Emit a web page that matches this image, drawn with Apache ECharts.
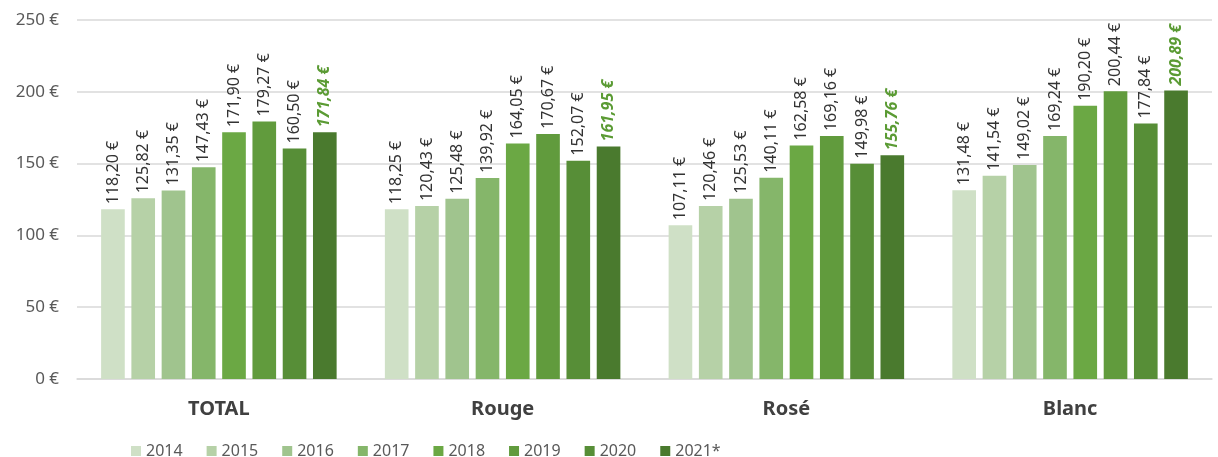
<!DOCTYPE html>
<html>
	<head>
		<meta charset="utf-8">
		<title></title>
		<script src="https://cdn.jsdelivr.net/npm/echarts@6/dist/echarts.min.js" type="text/javascript" charset="utf-8"></script>
		<style>
			html, body { margin: 0; padding: 0; background: #fff; }
		</style>
	</head>
	<body>
		<div id="mainChart" style="width: 1218px;height:457px;"></div>
		<script type="text/javascript">
			// catégories et années
			var categories = ['TOTAL', 'Rouge', 'Rosé', 'Blanc'];
			var years = ['2014', '2015', '2016', '2017', '2018', '2019', '2020', '2021*'];
			var yTicks = [0, 50, 100, 150, 200, 250];

			// valeurs par catégorie (une valeur par année)
			var totalVals = [118.20, 125.82, 131.35, 147.43, 171.90, 179.27, 160.50, 171.84];
			var rougeVals = [118.25, 120.43, 125.48, 139.92, 164.05, 170.67, 152.07, 161.95];
			var roseVals = [107.11, 120.46, 125.53, 140.11, 162.58, 169.16, 149.98, 155.76];
			var blancVals = [131.48, 141.54, 149.02, 169.24, 190.20, 200.44, 177.84, 200.89];

			var colors = ['#cfe0c6', '#b6d1a7', '#a0c48e', '#85b66a', '#6ba844', '#619b3d', '#578e37', '#4a7a2e'];

			function fmt(v) {
				return v.toFixed(2).replace('.', ',') + ' €';
			}

			function buildSeries() {
				var rows = [totalVals, rougeVals, roseVals, blancVals];
				var series = [];
				for (var i = 0; i < years.length; i++) {
					var last = i === years.length - 1;
					series.push({
						name: years[i],
						type: 'bar',
						barGap: '28%',
						barCategoryGap: '17%',
						itemStyle: { color: colors[i] },
						data: rows.map(function (r) { return r[i]; }),
						label: {
							show: true,
							position: 'top',
							rotate: 90,
							align: 'left',
							verticalAlign: 'middle',
							distance: 5,
							fontFamily: 'Noto Sans',
							fontSize: 16,
							color: last ? '#5b9b34' : '#333333',
							fontStyle: last ? 'italic' : 'normal',
							fontWeight: last ? 'bold' : 'normal',
							formatter: function (p) { return fmt(p.value); }
						}
					});
				}
				return series;
			}

			var dom = document.getElementById("mainChart");
			var myChart = echarts.init(dom);

			var option = {
				animation: false,
				backgroundColor: '#fff',
				textStyle: { fontFamily: 'Noto Sans' },
				grid: { left: 77, right: 6, top: 20, bottom: 78 },
				legend: {
					data: years,
					left: 126,
					top: 438,
					itemWidth: 10,
					itemHeight: 10,
					itemGap: 24,
					icon: 'rect',
					textStyle: { color: '#595959', fontSize: 16, fontFamily: 'Noto Sans' }
				},
				xAxis: {
					type: 'category',
					data: categories,
					axisTick: { show: false },
					axisLine: { lineStyle: { color: '#d9d9d9', width: 1.5 } },
					axisLabel: {
						color: '#404040',
						fontSize: 20,
						fontWeight: 'bold',
						margin: 20
					}
				},
				yAxis: {
					type: 'value',
					min: yTicks[0],
					max: yTicks[yTicks.length - 1],
					interval: 50,
					axisLine: { show: false },
					axisTick: { show: false },
					splitLine: { lineStyle: { color: '#d9d9d9', width: 1.5 } },
					axisLabel: {
						color: '#595959',
						fontSize: 17,
						margin: 18,
						formatter: function (v) { return v + ' €'; }
					}
				},
				series: buildSeries()
			};
			if (option && typeof option === "object") {
				myChart.setOption(option, true);
			}
		</script>
	</body>
</html>
